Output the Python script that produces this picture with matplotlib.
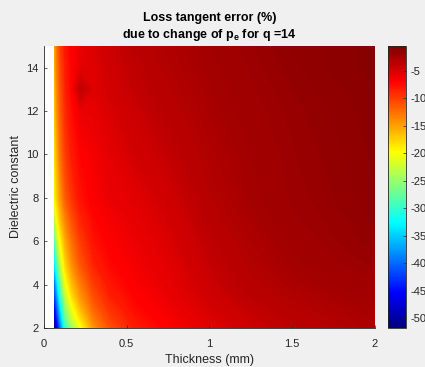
#!/usr/bin/env python3
"""Loss tangent error map (thickness vs dielectric constant), MATLAB-style."""

from __future__ import annotations

import matplotlib as mpl
import matplotlib.pyplot as plt
import numpy as np
from matplotlib.colors import LinearSegmentedColormap


# thickness samples (mm) and dielectric constant samples
THICKNESS = [0.065, 0.08, 0.10, 0.13, 0.17, 0.22, 0.30, 0.40, 0.55, 0.75, 1.00, 1.25, 1.50, 1.75, 2.00]
DIELECTRIC = [2, 2.5, 3, 3.5, 4, 5, 6, 7, 8, 10, 12, 13, 14, 15]

# loss tangent error (%), one row per dielectric constant
ERR_EPS_2 = [-51, -47, -39, -30, -25, -20.5, -14.5, -11, -8.3, -6.9, -5.5, -4.5, -3.7, -3.2, -2.8]
ERR_EPS_2_5 = [-48, -43, -36, -27, -22, -18, -13, -10, -7.8, -6.6, -5.2, -4.2, -3.5, -3.0, -2.7]
ERR_EPS_3 = [-45, -40, -33, -25, -20, -16, -11.8, -9.2, -7.4, -6.3, -4.9, -3.9, -3.2, -2.8, -2.5]
ERR_EPS_3_5 = [-42, -37, -30, -22.5, -18, -14.5, -10.8, -8.5, -7.1, -6.0, -4.6, -3.6, -3.0, -2.6, -2.3]
ERR_EPS_4 = [-40, -34, -27.5, -20.5, -16.5, -13.3, -10, -8.0, -6.8, -5.8, -4.4, -3.4, -2.8, -2.4, -2.1]
ERR_EPS_5 = [-33, -28, -22.5, -17.5, -14, -11.2, -8.6, -7.3, -6.4, -5.5, -4.1, -3.1, -2.5, -2.1, -1.8]
ERR_EPS_6 = [-28, -23, -19.5, -15.5, -12.5, -10, -7.8, -6.9, -6.1, -5.2, -3.8, -2.9, -2.3, -1.9, -1.6]
ERR_EPS_7 = [-23, -19.5, -16.5, -13.5, -11, -8.8, -7.3, -6.5, -5.8, -4.9, -3.5, -2.7, -2.1, -1.8, -1.5]
ERR_EPS_8 = [-19.5, -17, -14.5, -11.5, -9.5, -7.8, -6.8, -6.0, -5.5, -4.6, -3.3, -2.5, -2.0, -1.7, -1.4]
ERR_EPS_10 = [-18, -15.5, -12.5, -10, -8.2, -7.2, -6.4, -5.6, -4.8, -4.0, -3.0, -2.4, -1.9, -1.6, -1.3]
ERR_EPS_12 = [-17, -14, -11.5, -9, -7.5, -6.0, -5.9, -5.1, -4.3, -3.5, -2.7, -2.2, -1.8, -1.5, -1.2]
ERR_EPS_13 = [-16.5, -13.5, -11, -8.6, -7.0, -3.8, -5.4, -4.8, -4.0, -3.3, -2.6, -2.1, -1.7, -1.4, -1.2]
ERR_EPS_14 = [-16, -13, -10.5, -8.3, -7.0, -5.6, -5.4, -4.6, -3.8, -3.1, -2.5, -2.0, -1.6, -1.3, -1.1]
ERR_EPS_15 = [-15.5, -12.5, -10, -8, -6.8, -6.1, -5.2, -4.4, -3.6, -3.0, -2.4, -1.9, -1.5, -1.3, -1.1]

CBAR_MIN = -51.8
CBAR_MAX = -0.5
CBAR_TICKS = [-50, -45, -40, -35, -30, -25, -20, -15, -10, -5]
X_TICKS = [0, 0.5, 1, 1.5, 2]
Y_TICKS = [2, 4, 6, 8, 10, 12, 14]

BG = "#F0F0F0"
AXIS_COLOR = "#262626"

# MATLAB's jet is a little different from matplotlib's at the red end
MATLAB_JET = LinearSegmentedColormap(
    "matlab_jet",
    {
        "red": [(0, 0, 0), (0.375, 0, 0), (0.625, 1, 1), (0.875, 1, 1), (1, 0.5, 0.5)],
        "green": [(0, 0, 0), (0.125, 0, 0), (0.375, 1, 1), (0.625, 1, 1), (0.875, 0, 0), (1, 0, 0)],
        "blue": [(0, 0.5, 0.5), (0.125, 1, 1), (0.375, 1, 1), (0.625, 0, 0), (1, 0, 0)],
    },
    N=256,
)


def configure_matplotlib() -> None:
    mpl.rcParams.update(
        {
            "font.family": ["Liberation Sans", "DejaVu Sans"],
            "font.size": 8.0,
            "axes.labelsize": 9.0,
            "axes.linewidth": 0.6,
            "axes.unicode_minus": False,
            "xtick.labelsize": 8.0,
            "ytick.labelsize": 8.0,
            "xtick.direction": "in",
            "ytick.direction": "in",
            "xtick.major.size": 2.5,
            "ytick.major.size": 2.5,
            "xtick.major.width": 0.5,
            "ytick.major.width": 0.5,
            "xtick.color": AXIS_COLOR,
            "ytick.color": AXIS_COLOR,
            "axes.edgecolor": AXIS_COLOR,
        }
    )


def main() -> int:
    configure_matplotlib()
    err = np.array(
        [
            ERR_EPS_2, ERR_EPS_2_5, ERR_EPS_3, ERR_EPS_3_5, ERR_EPS_4, ERR_EPS_5, ERR_EPS_6,
            ERR_EPS_7, ERR_EPS_8, ERR_EPS_10, ERR_EPS_12, ERR_EPS_13, ERR_EPS_14, ERR_EPS_15,
        ]
    )

    fig = plt.figure(figsize=(4.25, 3.67), dpi=100, facecolor=BG)
    ax = fig.add_axes([0.1035, 0.1063, 0.7785, 0.7684])
    cax = fig.add_axes([0.913, 0.1063, 0.0424, 0.7684])

    norm = mpl.colors.Normalize(vmin=CBAR_MIN, vmax=CBAR_MAX)
    levels = np.linspace(CBAR_MIN, CBAR_MAX, 300)
    ax.contourf(THICKNESS, DIELECTRIC, err, levels=levels, cmap=MATLAB_JET, norm=norm, zorder=1)
    ax.set_facecolor("white")

    ax.set_xlim(0, 2)
    ax.set_ylim(2, 15)
    ax.set_xticks(X_TICKS, ["0", "0.5", "1", "1.5", "2"])
    ax.set_yticks(Y_TICKS)
    ax.spines["top"].set_visible(False)
    ax.spines["right"].set_visible(False)
    ax.tick_params(axis="x", pad=8)
    ax.tick_params(axis="y", pad=4)
    ax.set_xlabel("Thickness (mm)", labelpad=3.5, color=AXIS_COLOR)
    ax.set_ylabel("Dielectric constant", labelpad=3, color=AXIS_COLOR)
    ax.set_title(
        "Loss tangent error (%)\ndue to change of p$_\\mathregular{e}$ for q =14",
        fontsize=9,
        fontweight="bold",
        pad=6,
        linespacing=1.25,
    )

    sm = mpl.cm.ScalarMappable(norm=norm, cmap=MATLAB_JET)
    cbar = fig.colorbar(sm, cax=cax, ticks=CBAR_TICKS)
    cbar.outline.set_edgecolor(AXIS_COLOR)
    cbar.outline.set_linewidth(0.6)
    cax.tick_params(direction="in", length=2.5, width=0.5, pad=3, labelsize=8)

    fig.savefig("out.png", dpi=100, facecolor=BG)
    plt.close(fig)
    return 0


if __name__ == "__main__":
    raise SystemExit(main())
